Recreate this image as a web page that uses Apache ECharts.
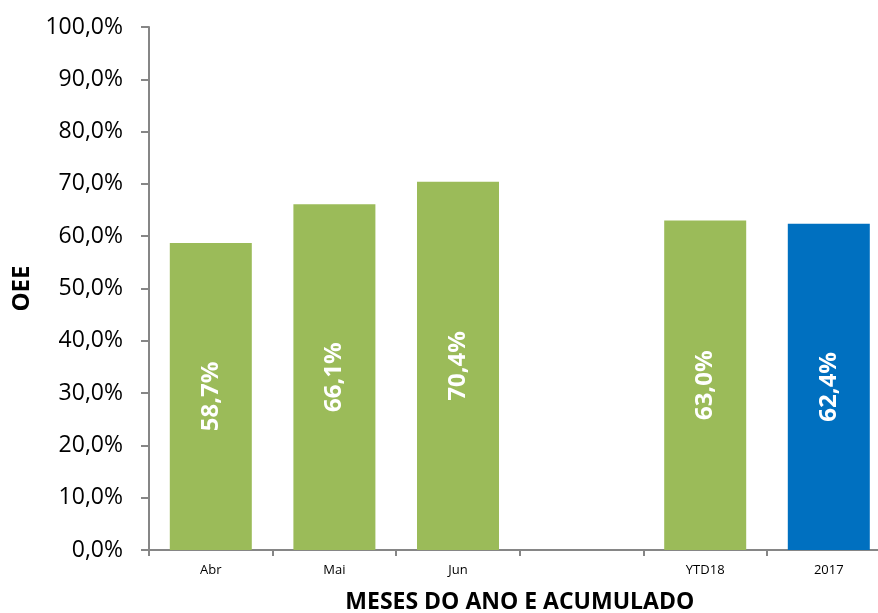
<!DOCTYPE html>
<html>
<head>
<meta charset="utf-8">
<script src="https://cdn.jsdelivr.net/npm/echarts@6/dist/echarts.min.js"></script>
<style>
  html, body { margin: 0; padding: 0; background: #fff; }
  #chart { width: 878px; height: 613px; }
</style>
</head>
<body>
<div id="chart"></div>
<script>
// OEE por mês e acumulado
const categories = ['Abr', 'Mai', 'Jun', '', 'YTD18', '2017'];
const oeeValues = [58.7, 66.1, 70.4, null, 63.0, 62.4];
const barColors = ['#9BBB59', '#9BBB59', '#9BBB59', '#9BBB59', '#9BBB59', '#0070C0'];
const yTicks = { min: 0, max: 100, interval: 10 };

const FONT = "'Open Sans', 'Noto Sans', sans-serif";
const fmt = v => v.toFixed(1).replace('.', ',') + '%';

const chart = echarts.init(document.getElementById('chart'));
chart.setOption({
  animation: false,
  backgroundColor: '#fff',
  grid: { left: 149, top: 27, width: 741.6, height: 523, containLabel: false, outerBoundsMode: 'none' },
  xAxis: {
    type: 'category',
    data: categories,
    name: 'MESES DO ANO E ACUMULADO',
    nameLocation: 'middle',
    nameGap: 41,
    nameTextStyle: { fontFamily: FONT, fontSize: 23, fontWeight: 'bold', color: '#000' },
    axisLine: { lineStyle: { color: '#868686', width: 2 } },
    axisTick: { show: true, length: 6, alignWithLabel: false, lineStyle: { color: '#868686', width: 2 } },
    axisLabel: { fontFamily: FONT, fontSize: 13, color: '#000', margin: 14 }
  },
  yAxis: {
    type: 'value',
    min: yTicks.min,
    max: yTicks.max,
    interval: yTicks.interval,
    name: 'OEE',
    nameLocation: 'middle',
    nameGap: 115,
    nameRotate: 90,
    nameTextStyle: { fontFamily: FONT, fontSize: 24, fontWeight: 'bold', color: '#000' },
    splitLine: { show: false },
    axisLine: { show: true, lineStyle: { color: '#868686', width: 2 } },
    axisTick: { show: true, length: 8, lineStyle: { color: '#868686', width: 2 } },
    axisLabel: { fontFamily: FONT, fontSize: 23, color: '#000', margin: 26, formatter: v => fmt(v) }
  },
  series: [{
    type: 'bar',
    data: oeeValues.map((v, i) => ({ value: v, itemStyle: { color: barColors[i] } })),
    barWidth: 82,
    label: {
      show: true,
      position: 'inside',
      rotate: 90,
      fontFamily: FONT,
      fontSize: 24,
      fontWeight: 'bold',
      color: '#fff',
      formatter: p => fmt(p.value)
    }
  }]
});
</script>
</body>
</html>
